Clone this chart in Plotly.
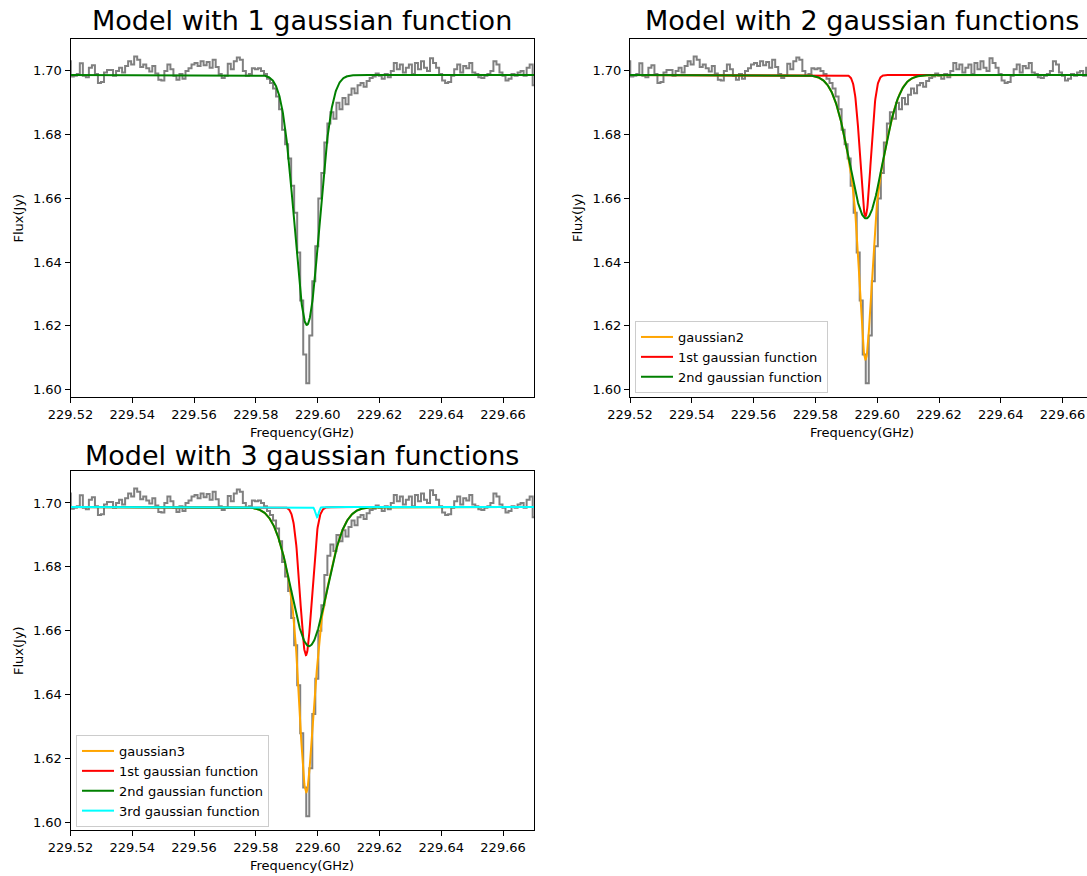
import numpy as np
import plotly.graph_objects as go

# Spectral axis: channel grid (GHz)
freq_start = 229.5196
chan_width = 0.000977

# Observed flux per channel (Jy)
flux = [
    1.7030, 1.6982, 1.6985, 1.6990, 1.7024, 1.6985, 1.6980, 1.7010, 1.7018, 1.6990,
    1.6962, 1.6965, 1.6995, 1.7003, 1.7003, 1.6985, 1.7000, 1.7010, 1.6995, 1.7015,
    1.7030, 1.7020, 1.7045, 1.7035, 1.7012, 1.7020, 1.7008, 1.6998, 1.7015, 1.6992,
    1.6972, 1.6970, 1.7000, 1.7020, 1.7005, 1.6985, 1.6972, 1.6990, 1.6975, 1.7000,
    1.7008, 1.7020, 1.7025, 1.7015, 1.7030, 1.7018, 1.7028, 1.7010, 1.7035, 1.7012,
    1.6990, 1.6978, 1.6985, 1.7022, 1.7005, 1.7030, 1.7042, 1.7035, 1.7000, 1.6985,
    1.6990, 1.7008, 1.7005, 1.7008, 1.7000, 1.6990, 1.6975, 1.6962, 1.6945, 1.6920,
    1.6880, 1.6815, 1.6770, 1.6725, 1.6640, 1.6555, 1.6430, 1.6280, 1.6110, 1.6020,
    1.6170, 1.6340, 1.6450, 1.6600, 1.6680, 1.6775, 1.6835, 1.6870, 1.6850, 1.6900,
    1.6880, 1.6915, 1.6895, 1.6925, 1.6945, 1.6930, 1.6955, 1.6962, 1.6950, 1.6968,
    1.6978, 1.6982, 1.6992, 1.6985, 1.6975, 1.6990, 1.6980, 1.7000, 1.7025, 1.7005,
    1.7020, 1.6995, 1.7010, 1.7020, 1.6990, 1.7025, 1.7005, 1.7030, 1.7010, 1.7000,
    1.7040, 1.7025, 1.7010, 1.6990, 1.6970, 1.6962, 1.6965, 1.6985, 1.7005, 1.7020,
    1.6995, 1.7015, 1.7008, 1.7025, 1.6995, 1.6990, 1.6980, 1.6978, 1.6985, 1.6990,
    1.7000, 1.7030, 1.7020, 1.6995, 1.6985, 1.6970, 1.6975, 1.6990, 1.6985, 1.6995,
    1.7000, 1.6985, 1.7010, 1.7020, 1.6955,
]

# Fitted models: constant baseline plus gaussian components (amplitude, centre, sigma)
baseline = 1.6987
fit1_components = [(-0.0784, 229.5965, 0.0040)]
fit2_components = [(-0.0443, 229.5962, 0.0017), (-0.0450, 229.5964, 0.0054)]
fit3_components = [(-0.0463, 229.5962, 0.0019), (-0.0435, 229.5972, 0.0057),
                   (-0.0032, 229.5998, 0.0005)]

component_names = ["1st gaussian function", "2nd gaussian function", "3rd gaussian function"]
component_colors = ["red", "green", "cyan"]
panel_titles = ["Model with 1 gaussian function", "Model with 2 gaussian functions",
                "Model with 3 gaussian functions"]

xtick_vals = [229.52, 229.54, 229.56, 229.58, 229.60, 229.62, 229.64, 229.66]
ytick_vals = [1.60, 1.62, 1.64, 1.66, 1.68, 1.70]

freq = freq_start + chan_width * np.arange(len(flux))
fgrid = np.linspace(freq[0], freq[-1], 1500)


def gauss(x, amp, cen, sig):
    return amp * np.exp(-0.5 * ((x - cen) / sig) ** 2)


def component_curve(comp):
    return baseline + gauss(fgrid, *comp)


def total_curve(comps):
    return baseline + sum(gauss(fgrid, *c) for c in comps)


W, H = 1087, 876
FONT = "DejaVu Sans"

fig = go.Figure()

# axis geometry in pixels: (left, right, top, bottom)
boxes = {1: (70.5, 534.0, 39.0, 397.0), 2: (630.0, 1087.0, 39.0, 397.0), 3: (70.5, 534.0, 471.0, 830.0)}
title_y = {1: 21, 2: 21, 3: 455}
ppg = 3090.0  # pixels per GHz
x0 = 229.52


def add_data(k):
    xa = "x" if k == 1 else f"x{k}"
    ya = "y" if k == 1 else f"y{k}"
    fig.add_trace(go.Scatter(x=freq, y=flux, mode="lines", line=dict(color="gray", width=2, shape="hvh"),
                             showlegend=False, xaxis=xa, yaxis=ya, hoverinfo="skip"))
    return xa, ya


# Panel 1
xa, ya = add_data(1)
fig.add_trace(go.Scatter(x=fgrid, y=total_curve(fit1_components), mode="lines",
                         line=dict(color="green", width=2), showlegend=False, xaxis=xa, yaxis=ya))

# Panel 2
xa, ya = add_data(2)
fig.add_trace(go.Scatter(x=fgrid, y=total_curve(fit2_components), mode="lines", name="gaussian2",
                         line=dict(color="orange", width=2), xaxis=xa, yaxis=ya, legend="legend"))
for i, c in enumerate(fit2_components):
    fig.add_trace(go.Scatter(x=fgrid, y=component_curve(c), mode="lines", name=component_names[i],
                             line=dict(color=component_colors[i], width=2), xaxis=xa, yaxis=ya,
                             legend="legend"))

# Panel 3
xa, ya = add_data(3)
fig.add_trace(go.Scatter(x=fgrid, y=total_curve(fit3_components), mode="lines", name="gaussian3",
                         line=dict(color="orange", width=2), xaxis=xa, yaxis=ya, legend="legend2"))
for i, c in enumerate(fit3_components):
    fig.add_trace(go.Scatter(x=fgrid, y=component_curve(c), mode="lines", name=component_names[i],
                             line=dict(color=component_colors[i], width=2), xaxis=xa, yaxis=ya,
                             legend="legend2"))

layout = dict(width=W, height=H, margin=dict(l=0, r=0, t=0, b=0, autoexpand=False),
              paper_bgcolor="white", plot_bgcolor="white",
              font=dict(family=FONT, size=13, color="black"))

annotations = []
for k, (l, r, t, b) in boxes.items():
    suffix = "" if k == 1 else str(k)
    full_right = l + 0.15 * ppg
    x_hi = x0 + (r - l) / ppg
    axis_common = dict(showgrid=False, zeroline=False, ticks="outside", ticklen=5, tickwidth=1,
                       tickcolor="black", linecolor="black", linewidth=1, showline=True,
                       automargin=False, tickfont=dict(family=FONT, size=13))
    layout["xaxis" + suffix] = dict(domain=[l / W, r / W], range=[x0, x_hi], tickvals=xtick_vals,
                                    tickformat=".2f", mirror=True, anchor="y" + suffix, **axis_common)
    layout["yaxis" + suffix] = dict(domain=[1 - b / H, 1 - t / H], range=[1.5977, 1.7100],
                                    tickvals=ytick_vals, tickformat=".2f", mirror=(k != 2),
                                    anchor="x" + suffix, **axis_common)
    cx = (l + full_right) / 2
    annotations.append(dict(text=panel_titles[k - 1], x=cx / W, y=1 - title_y[k] / H, xref="paper",
                            yref="paper", showarrow=False, xanchor="center", yanchor="middle",
                            borderpad=0, font=dict(family=FONT, size=27)))
    annotations.append(dict(text="Frequency(GHz)", x=cx / W, y=1 - (b + 35) / H, xref="paper",
                            yref="paper", showarrow=False, xanchor="center", yanchor="middle",
                            borderpad=0, font=dict(family=FONT, size=13)))
    annotations.append(dict(text="Flux(Jy)", x=(l - 52) / W, y=1 - (t + b) / 2 / H, xref="paper",
                            yref="paper", showarrow=False, xanchor="center", yanchor="middle",
                            textangle=-90, font=dict(family=FONT, size=13)))

layout["annotations"] = annotations
legend_style = dict(bgcolor="rgba(255,255,255,0.8)", bordercolor="#cccccc", borderwidth=1,
                    font=dict(family=FONT, size=13), xanchor="left", yanchor="bottom",
                    tracegroupgap=0, itemwidth=32)
layout["legend"] = dict(x=635 / W, y=1 - 393 / H, **legend_style)
layout["legend2"] = dict(x=76 / W, y=1 - 827 / H, **legend_style)

fig.update_layout(**layout)
fig.write_html("out.html")
